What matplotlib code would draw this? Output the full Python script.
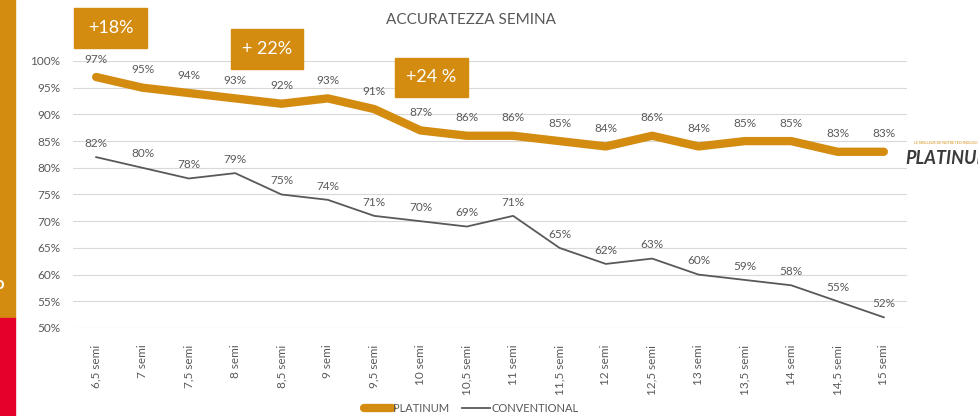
import matplotlib
matplotlib.use('Agg')
import matplotlib.pyplot as plt
from matplotlib.patches import Rectangle

plt.rcParams['font.family'] = ['Lato', 'DejaVu Sans']

# data
categories = ['6,5 semi', '7 semi', '7,5 semi', '8 semi', '8,5 semi', '9 semi', '9,5 semi',
              '10 semi', '10,5 semi', '11 semi', '11,5 semi', '12 semi', '12,5 semi',
              '13 semi', '13,5 semi', '14 semi', '14,5 semi', '15 semi']
platinum = [97, 95, 94, 93, 92, 93, 91, 87, 86, 86, 85, 84, 86, 84, 85, 85, 83, 83]
conventional = [82, 80, 78, 79, 75, 74, 71, 70, 69, 71, 65, 62, 63, 60, 59, 58, 55, 52]
yticks = [50, 55, 60, 65, 70, 75, 80, 85, 90, 95, 100]
gains = ['+18%', '+ 22%', '+24 %']

ORANGE = '#D38B10'
GREY = '#595959'
TXT = '#595959'

fig = plt.figure(figsize=[9.79, 4.16], dpi=100)
ax = fig.add_axes([73/979, 1-328/416, 834/979, 267/416])

x = list(range(len(categories)))
ax.plot(x, platinum, color=ORANGE, lw=6, solid_capstyle='round', label='PLATINUM', zorder=3)
ax.plot(x, conventional, color=GREY, lw=1.3, label='CONVENTIONAL', zorder=3)

for i, v in enumerate(platinum):
    ax.annotate('%d%%' % v, (i, v), xytext=(0, 9), textcoords='offset points',
                ha='center', va='bottom', fontsize=8.5, color=TXT)
for i, v in enumerate(conventional):
    ax.annotate('%d%%' % v, (i, v), xytext=(0, 6), textcoords='offset points',
                ha='center', va='bottom', fontsize=8.5, color=TXT)

ax.set_xlim(-0.5, len(categories) - 0.5)
ax.set_ylim(50, 100)
ax.set_yticks(yticks)
ax.set_yticklabels(['%d%%' % t for t in yticks], fontsize=8.5, color=TXT)
ax.set_xticks(x)
ax.set_xticklabels(categories, rotation=90, fontsize=8.5, color=TXT)
ax.tick_params(length=0, pad=12)
ax.tick_params(axis='y', pad=9)
ax.grid(axis='y', color='#D9D9D9', lw=0.8)
ax.set_axisbelow(True)
for s in ax.spines.values():
    s.set_visible(False)

fig.text(471/979, 1-20/416, 'ACCURATEZZA SEMINA', ha='center', va='center',
         fontsize=11, color=TXT)

# gain boxes
boxes = [(74, 8, 147, 48), (231, 29, 303, 69), (395, 58, 468, 97)]
for (x0, y0, x1, y1), g in zip(boxes, gains):
    fig.patches.append(Rectangle((x0/979, 1-y1/416), (x1-x0)/979, (y1-y0)/416,
                                 transform=fig.transFigure, color=ORANGE, zorder=5))
    fig.text((x0+x1)/2/979, 1-(y0+y1)/2/416, g, ha='center', va='center',
             fontsize=13, color='white', zorder=6)

# left strip
fig.patches.append(Rectangle((0, 1-318/416), 15/979, 318/416, transform=fig.transFigure,
                             color=ORANGE, zorder=5))
fig.patches.append(Rectangle((0, 0), 15/979, 98/416, transform=fig.transFigure,
                             color='#E4002B', zorder=5))
fig.text(-6/979, 1-284/416, 'o', ha='left', va='center', fontsize=12, color='white',
         fontweight='bold', zorder=6)

# logo
fig.text(905/979, 1-158/416, 'PLATINUM', ha='left', va='center', fontsize=13,
         fontweight='bold', fontstyle='italic', color='#3A3A3A')
fig.text(914/979, 1-143/416, 'LE MEILLEUR DE NOTRE TECHNOLOGIE', ha='left', va='center',
         fontsize=2.5, color=ORANGE)

fig.legend(loc='center', bbox_to_anchor=(471/979, 1-408/416), ncol=2, frameon=False,
           fontsize=8, labelcolor=TXT, handlelength=2.5, handletextpad=0.1,
           columnspacing=1.2)

fig.savefig('out.png', dpi=100)
